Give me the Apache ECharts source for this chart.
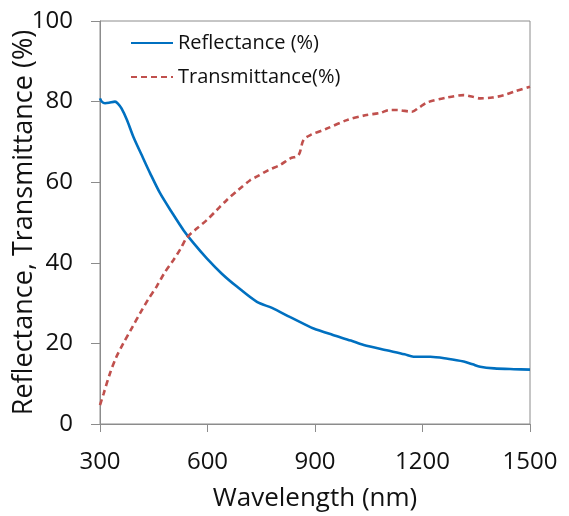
<!DOCTYPE html>
<html><head><meta charset="utf-8">
<script src="https://cdn.jsdelivr.net/npm/echarts@6/dist/echarts.min.js"></script>
<style>html,body{margin:0;padding:0;background:#fff}#c{width:569px;height:516px}</style>
</head><body><div id="c"></div>
<script>
const reflWavelength = [300,305,314,325,342,350,360,375,393,415,440,468,500,533,560,598,640,682,738,780,831,870,896,950,1000,1036,1100,1150,1175,1222,1270,1315,1340,1361,1400,1455,1500];
const reflValues = [80.8,80.0,79.6,79.7,80.0,79.5,78.3,75.5,71.3,67,62.2,57.2,52.6,48.1,45,41.1,37.3,34.1,30.3,28.8,26.5,24.8,23.7,22.1,20.7,19.6,18.3,17.3,16.7,16.7,16.2,15.5,14.8,14.2,13.8,13.6,13.5];
const transWavelength = [300,310,328,345,365,390,412,435,458,480,505,525,542,570,598,625,654,685,719,740,770,803,831,854,868,887,930,989,1040,1082,1107,1129,1171,1190,1213,1268,1315,1340,1361,1395,1427,1460,1500];
const transValues = [4.7,7.5,12.6,16.5,20.0,24,27.5,31,34.1,37.5,40.7,43.5,46.2,48.5,50.6,53,55.6,58,60.5,61.5,63,64.3,65.9,66.7,70.5,71.7,73.2,75.4,76.6,77.2,77.9,77.9,77.5,78.5,79.8,81.0,81.6,81.2,80.8,81.0,81.6,82.6,83.7];
const xTicks = [300,600,900,1200,1500];
const yTicks = [0,20,40,60,80,100];
const seriesNames = ['Reflectance (%)','Transmittance(%)'];
const xTitle = 'Wavelength (nm)';
const yTitle = 'Reflectance, Transmittance (%)';

const font = 'Open Sans';
const chart = echarts.init(document.getElementById('c'), null, {renderer:'canvas'});
chart.setOption({
  animation:false,
  backgroundColor:'#fff',
  grid:{left:100,right:39,top:21,bottom:92,show:true,borderColor:'#8c8c8c',borderWidth:1,containLabel:false,outerBoundsMode:'none'},
  legend:{
    orient:'vertical', left:125, top:26, itemWidth:42, itemHeight:14, itemGap:10,
    itemStyle:{opacity:0},
    textStyle:{fontFamily:font,fontSize:20,color:'#111',lineHeight:24},
    data:seriesNames
  },
  xAxis:{
    type:'value', min:xTicks[0], max:xTicks[xTicks.length-1], interval:300,
    name:xTitle, nameLocation:'middle', nameGap:62, nameMoveOverlap:false,
    nameTextStyle:{fontFamily:font,fontSize:26,color:'#111'},
    axisLine:{show:true,lineStyle:{color:'#8c8c8c',width:1}},
    axisTick:{show:true,inside:false,length:8,lineStyle:{color:'#8c8c8c'}},
    axisLabel:{fontFamily:font,fontSize:24,color:'#111',margin:26,formatter:v=>String(v)},
    splitLine:{show:false}
  },
  yAxis:{
    type:'value', min:yTicks[0], max:yTicks[yTicks.length-1], interval:20,
    name:yTitle, nameLocation:'middle', nameGap:62, nameMoveOverlap:false,
    nameTextStyle:{fontFamily:font,fontSize:27,color:'#111'},
    axisLine:{show:true,lineStyle:{color:'#8c8c8c',width:1}},
    axisTick:{show:true,inside:false,length:9,lineStyle:{color:'#8c8c8c'}},
    axisLabel:{fontFamily:font,fontSize:24,color:'#111',margin:27,formatter:v=>String(v)},
    splitLine:{show:false}
  },
  series:[
    {name:seriesNames[0],type:'line',symbol:'none',smooth:0.3,
     data:reflWavelength.map((w,i)=>[w,reflValues[i]]),
     lineStyle:{color:'#0070C0',width:2.6},itemStyle:{color:'#0070C0'}},
    {name:seriesNames[1],type:'line',symbol:'none',smooth:0.3,
     data:transWavelength.map((w,i)=>[w,transValues[i]]),
     lineStyle:{color:'#C0504D',width:2.6,type:[6,4]},itemStyle:{color:'#C0504D'}}
  ]
});
</script></body></html>
